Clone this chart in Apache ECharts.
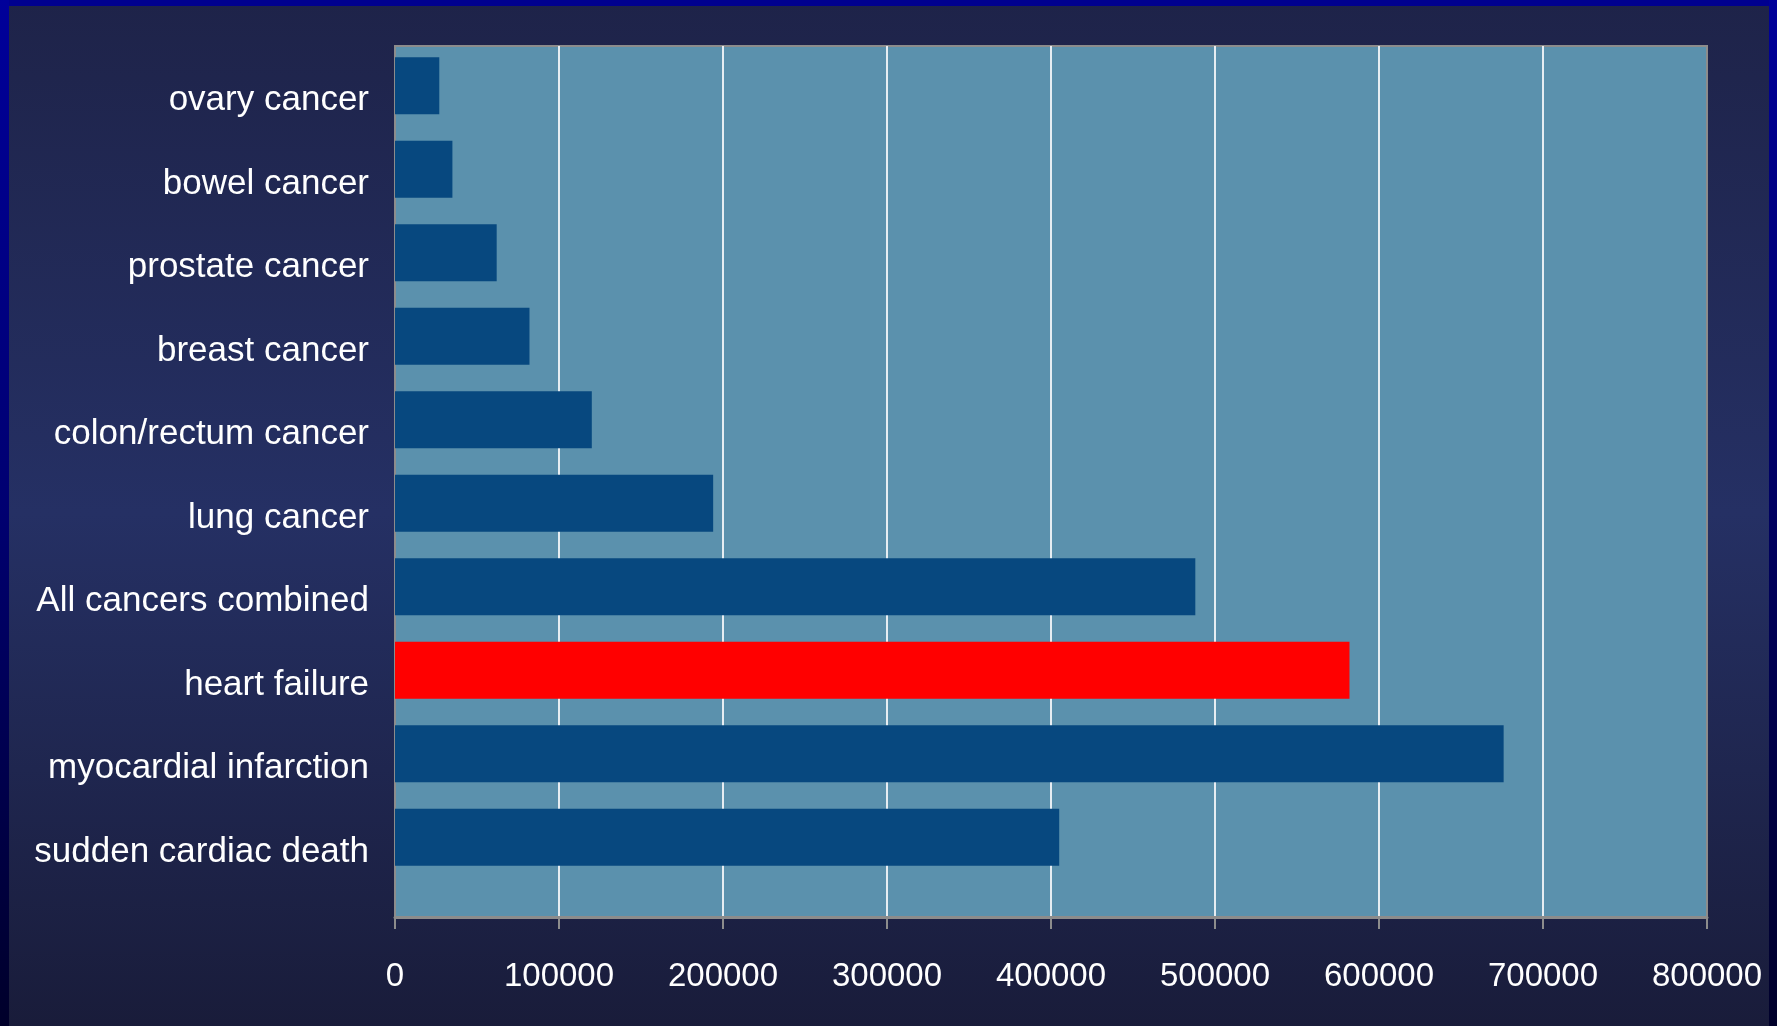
<!DOCTYPE html>
<html>
<head>
<meta charset="utf-8">
<title>Annual incidence by condition</title>
<script src="https://cdn.jsdelivr.net/npm/echarts@6/dist/echarts.min.js"></script>
<style>
  html, body { margin: 0; padding: 0; background: #000060; }
  #chart { width: 1777px; height: 1026px; }
</style>
</head>
<body>
<div id="chart"></div>
<script>
// Conditions, listed top to bottom
const categories = [
  'ovary cancer',
  'bowel cancer',
  'prostate cancer',
  'breast cancer',
  'colon/rectum cancer',
  'lung cancer',
  'All cancers combined',
  'heart failure',
  'myocardial infarction',
  'sudden cardiac death'
];
// Cases per year
const values = [27000, 35000, 62000, 82000, 120000, 194000, 488000, 582000, 676000, 405000];
// Condition drawn in the accent colour
const highlighted = 'heart failure';
// Value axis range and step
const axisMin = 0;
const axisMax = 800000;
const axisStep = 100000;

const W = 1777, H = 1026;
const plotLeft = 395, plotRight = 1707, plotTop = 46, plotBottom = 917;
const barColor = '#07487f';
const accentColor = '#ff0000';
const font = '"Liberation Sans", Arial, sans-serif';

const chart = echarts.init(document.getElementById('chart'), null, { renderer: 'canvas' });

const option = {
  animation: false,
  backgroundColor: {
    type: 'linear', x: 0, y: 0, x2: 0, y2: 1,
    colorStops: [
      { offset: 0, color: '#1e2349' },
      { offset: 0.5, color: '#253064' },
      { offset: 1, color: '#191c3a' }
    ]
  },
  graphic: [
    // frame strips around the slide
    { type: 'rect', left: 0, top: 0, shape: { width: W, height: 6 }, style: { fill: '#00008f' }, z: 100 },
    { type: 'rect', left: 0, top: 0, shape: { width: 9, height: H },
      style: { fill: new echarts.graphic.LinearGradient(0, 0, 0, 1, [
        { offset: 0, color: '#00009a' }, { offset: 0.5, color: '#000070' }, { offset: 1, color: '#00002a' }]) }, z: 100 },
    { type: 'rect', left: W - 8, top: 0, shape: { width: 8, height: H },
      style: { fill: new echarts.graphic.LinearGradient(0, 0, 0, 1, [
        { offset: 0, color: '#00009a' }, { offset: 0.5, color: '#000060' }, { offset: 1, color: '#00002a' }]) }, z: 100 }
  ],
  grid: [
    {
      left: plotLeft, top: plotTop,
      width: plotRight - plotLeft, height: plotBottom - plotTop,
      show: true, backgroundColor: '#5b91ad',
      borderColor: '#8c8c8c', borderWidth: 2
    },
    {
      left: plotLeft, top: 44,
      width: plotRight - plotLeft, height: 835
    }
  ],
  xAxis: [
    {
      gridIndex: 0, type: 'value',
      min: axisMin, max: axisMax, interval: axisStep,
      axisLine: { show: true, lineStyle: { color: '#8c8c8c', width: 3 } },
      axisTick: { show: true, length: 12, lineStyle: { color: '#8c8c8c', width: 2 } },
      axisLabel: {
        color: '#ffffff', fontSize: 33, fontFamily: font, margin: 43,
        formatter: v => String(v)
      },
      splitLine: {
        show: true, showMinLine: false, showMaxLine: false,
        lineStyle: { color: '#e6edf2', width: 2 }
      }
    },
    {
      gridIndex: 1, type: 'value',
      min: axisMin, max: axisMax, interval: axisStep,
      show: false
    }
  ],
  yAxis: [
    {
      gridIndex: 0, type: 'category', data: categories, show: false
    },
    {
      gridIndex: 1, type: 'category', data: categories, inverse: true,
      axisLine: { show: false },
      axisTick: { show: false },
      splitLine: { show: false },
      axisLabel: {
        color: '#ffffff', fontSize: 35, fontFamily: font,
        margin: 26, verticalAlign: 'top', lineHeight: 30
      }
    }
  ],
  series: [
    {
      type: 'bar',
      xAxisIndex: 1, yAxisIndex: 1,
      barWidth: 57,
      data: values.map((v, i) => ({
        value: v,
        itemStyle: { color: categories[i] === highlighted ? accentColor : barColor }
      }))
    }
  ]
};

chart.setOption(option);
</script>
</body>
</html>
